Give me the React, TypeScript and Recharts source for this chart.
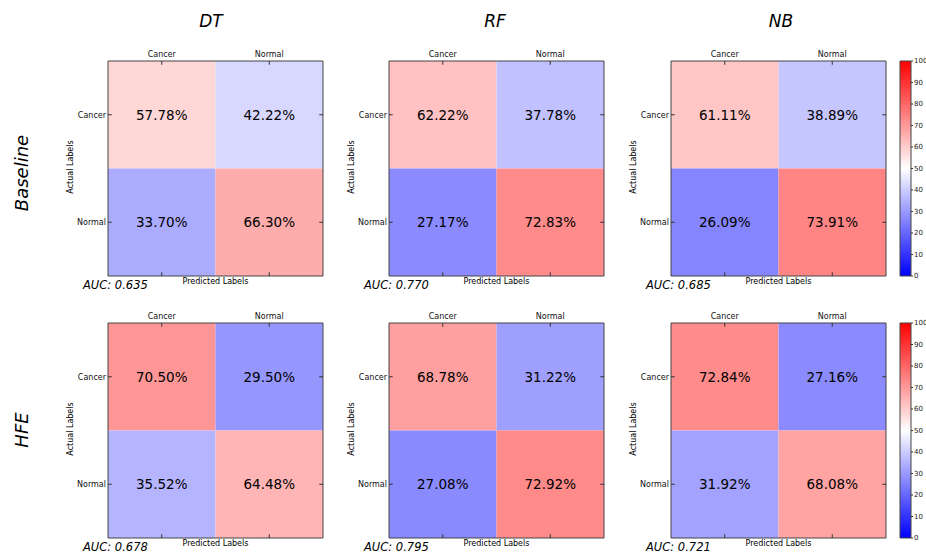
import React from 'react';
import { ScatterChart, Scatter, XAxis, YAxis, ReferenceArea, ReferenceLine } from 'recharts';

const models = ['DT', 'RF', 'NB'];
const setups = ['Baseline', 'HFE'];
const classLabels = ['Cancer', 'Normal'];

// rows = actual, cols = predicted (percent)
const baselineDT = [[57.78, 42.22], [33.7, 66.3]];
const baselineRF = [[62.22, 37.78], [27.17, 72.83]];
const baselineNB = [[61.11, 38.89], [26.09, 73.91]];
const hfeDT = [[70.5, 29.5], [35.52, 64.48]];
const hfeRF = [[68.78, 31.22], [27.08, 72.92]];
const hfeNB = [[72.84, 27.16], [31.92, 68.08]];

const aucBaseline = [0.635, 0.77, 0.685];
const aucHFE = [0.678, 0.795, 0.721];

const colorbarTicks = [0, 10, 20, 30, 40, 50, 60, 70, 80, 90, 100];

const matrices = [
  [baselineDT, baselineRF, baselineNB],
  [hfeDT, hfeRF, hfeNB],
];
const aucs = [aucBaseline, aucHFE];

// layout
const BOX = 215;
const boxLefts = [108, 389, 671];
const boxTops = [61, 323];
const titleX = [211, 495, 781];
const FONT = '"DejaVu Sans", sans-serif';

// matplotlib bwr colormap, 0..100
function bwr(v: number) {
  const t = Math.max(0, Math.min(1, v / 100));
  let r, g, b;
  if (t < 0.5) {
    r = g = 2 * t;
    b = 1;
  } else {
    r = 1;
    g = b = 2 * (1 - t);
  }
  const h = (x: number) => Math.round(x * 255).toString(16).padStart(2, '0');
  return '#' + h(r) + h(g) + h(b);
}

const TK = 0.035;

function Matrix({ data }: { data: number[][] }) {
  const points = data.flatMap((row, r) => row.map((v, c) => ({ x: c + 0.5, y: r + 0.5, v })));
  return (
    <ScatterChart width={BOX + 45} height={BOX + 25} margin={{ top: 0, right: 5, bottom: 5, left: 0 }}>
      <XAxis
        type="number"
        dataKey="x"
        orientation="top"
        domain={[0, 2]}
        ticks={[0.5, 1.5]}
        tickFormatter={(v: number) => classLabels[Math.floor(v)]}
        height={20}
        axisLine={false}
        tickLine={false}
        tickSize={0}
        tickMargin={4}
        interval={0}
        tick={{ fontSize: 8, fill: '#111', fontFamily: FONT }}
      />
      <YAxis
        type="number"
        dataKey="y"
        domain={[0, 2]}
        reversed
        ticks={[0.5, 1.5]}
        tickFormatter={(v: number) => classLabels[Math.floor(v)]}
        width={40}
        axisLine={false}
        tickLine={false}
        tickSize={0}
        tickMargin={2}
        interval={0}
        tick={{ fontSize: 8, fill: '#111', fontFamily: FONT }}
      />
      {data.map((row, r) =>
        row.map((v, c) => (
          <ReferenceArea
            key={`${r}-${c}`}
            x1={c}
            x2={c + 1}
            y1={r}
            y2={r + 1}
            fill={bwr(v)}
            fillOpacity={1}
            stroke="none"
          />
        ))
      )}
      {[0.5, 1.5].map((p) => (
        <React.Fragment key={p}>
          <ReferenceLine segment={[{ x: p, y: 0 }, { x: p, y: TK }]} stroke="#333" />
          <ReferenceLine segment={[{ x: p, y: 2 }, { x: p, y: 2 - TK }]} stroke="#333" />
          <ReferenceLine segment={[{ x: 0, y: p }, { x: TK, y: p }]} stroke="#333" />
          <ReferenceLine segment={[{ x: 2, y: p }, { x: 2 - TK, y: p }]} stroke="#333" />
        </React.Fragment>
      ))}
      <ReferenceArea x1={0} x2={2} y1={0} y2={2} fill="none" stroke="#444" strokeWidth={1} />
      <Scatter
        data={points}
        isAnimationActive={false}
        shape={(p: any) => (
          <text
            x={p.cx}
            y={p.cy}
            textAnchor="middle"
            dominantBaseline="central"
            fontSize={13.5}
            fontFamily={FONT}
            fill="#000"
          >
            {p.payload.v.toFixed(2)}%
          </text>
        )}
      />
    </ScatterChart>
  );
}

const barLevels = colorbarTicks.map((t) => ({ x: 0.5, y: t }));

function ColorBar() {
  return (
    <ScatterChart width={31} height={BOX + 25} margin={{ top: 20, right: 0, bottom: 5, left: 5 }}>
      <defs>
        <linearGradient id="bwrGrad" x1="0" y1="0" x2="0" y2="1">
          <stop offset="0%" stopColor="#ff0000" />
          <stop offset="50%" stopColor="#ffffff" />
          <stop offset="100%" stopColor="#0000ff" />
        </linearGradient>
      </defs>
      <XAxis type="number" dataKey="x" domain={[0, 1]} hide />
      <YAxis
        type="number"
        dataKey="y"
        orientation="right"
        domain={[0, 100]}
        ticks={colorbarTicks}
        interval={0}
        width={15}
        axisLine={false}
        tickSize={2}
        tickMargin={1}
        tickLine={{ stroke: '#333' }}
        tick={{ fontSize: 7, fill: '#222', fontFamily: FONT }}
      />
      <ReferenceArea x1={0} x2={1} y1={0} y2={100} fill="url(#bwrGrad)" fillOpacity={1} stroke="#444" />
      <Scatter data={barLevels} isAnimationActive={false} shape={() => <g />} />
    </ScatterChart>
  );
}

const centered: React.CSSProperties = {
  position: 'absolute',
  transform: 'translate(-50%, -50%)',
  whiteSpace: 'nowrap',
  lineHeight: 1,
  fontFamily: FONT,
  color: '#000',
};

export default function App() {
  return (
    <div style={{ position: 'absolute', left: 0, top: 0, width: 926, height: 559, background: '#fff', overflow: 'hidden', fontFamily: FONT }}>
      {models.map((m, i) => (
        <div key={m} style={{ ...centered, left: titleX[i], top: 21, fontSize: 17, fontStyle: 'italic' }}>
          {m}
        </div>
      ))}
      {setups.map((s, r) => (
        <div
          key={s}
          style={{ ...centered, left: 22, top: boxTops[r] + BOX / 2 + (r === 0 ? 4 : -1), fontSize: 18, fontStyle: 'italic', transform: 'translate(-50%, -50%) rotate(-90deg)' }}
        >
          {s}
        </div>
      ))}
      {matrices.map((row, r) =>
        row.map((mat, c) => (
          <React.Fragment key={`${r}-${c}`}>
            <div style={{ position: 'absolute', left: boxLefts[c] - 40, top: boxTops[r] - 20 }}>
              <Matrix data={mat} />
            </div>
            <div
              style={{ ...centered, left: boxLefts[c] - 37, top: boxTops[r] + BOX / 2 - 2, fontSize: 8, transform: 'translate(-50%, -50%) rotate(-90deg)' }}
            >
              Actual Labels
            </div>
            <div style={{ ...centered, left: boxLefts[c] + BOX / 2, top: boxTops[r] + BOX + 6, fontSize: 8 }}>
              Predicted Labels
            </div>
            <div
              style={{ ...centered, left: boxLefts[c] - 25, top: boxTops[r] + BOX + 10, fontSize: 11.5, fontStyle: 'italic', transform: 'translate(0, -50%)' }}
            >
              AUC: {aucs[r][c].toFixed(3)}
            </div>
          </React.Fragment>
        ))
      )}
      {boxTops.map((t) => (
        <div key={t} style={{ position: 'absolute', left: 895, top: t - 20 }}>
          <ColorBar />
        </div>
      ))}
    </div>
  );
}
